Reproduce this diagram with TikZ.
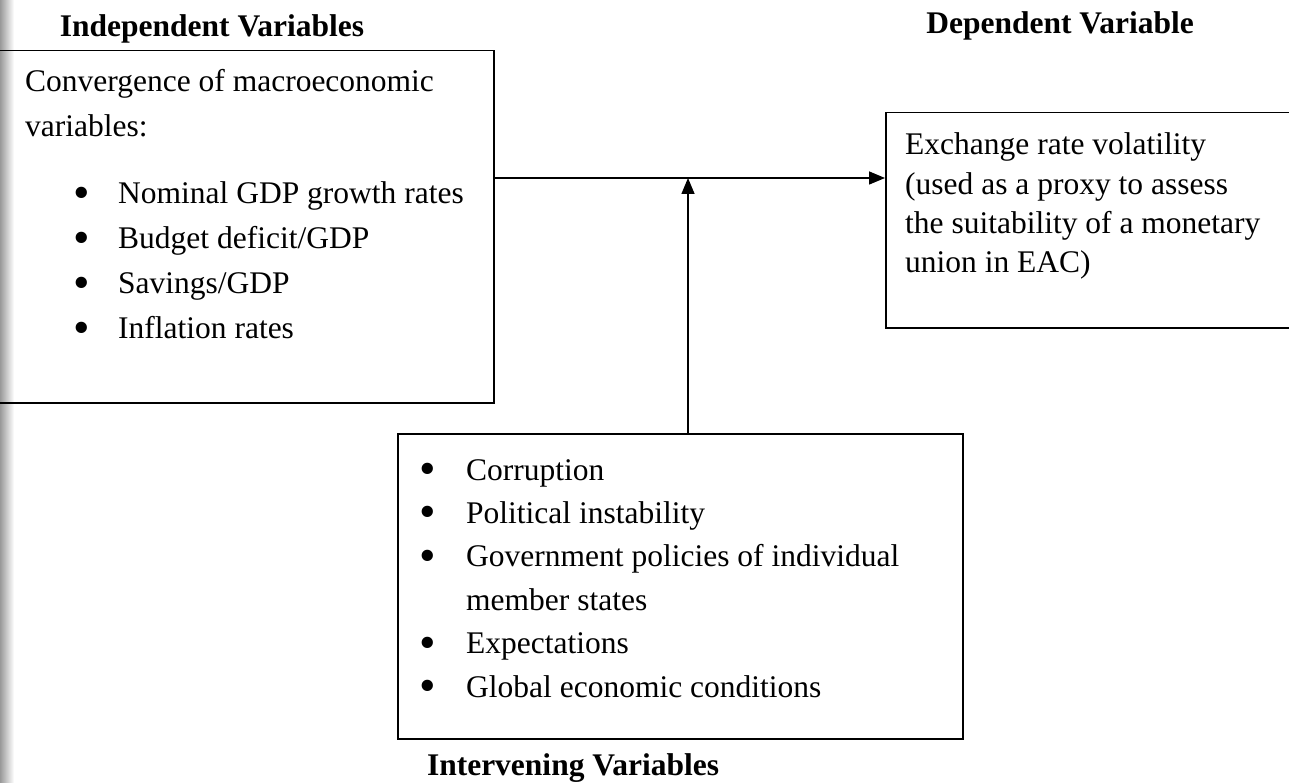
\documentclass[tikz,border=0pt]{standalone}
\usepackage{fontspec}
\usepackage{graphicx}
\setmainfont{Liberation Serif}
\usetikzlibrary{arrows.meta}

\tikzset{
  varbox/.style={draw, line width=1.5pt, rectangle, inner sep=0pt, anchor=north west},
  vartext/.style={inner sep=0pt, anchor=base west, font=\fontsize{31.5}{#1}\selectfont},
  heading/.style={inner sep=0pt, anchor=base, font=\fontsize{31.5}{38}\selectfont\bfseries},
  linkarrow/.style={line width=1.5pt, -{Triangle[length=16pt,width=13pt]}},
}
\newcommand{\bul}[1]{\makebox[#1][l]{\raisebox{-4.5pt}{\scalebox{1.5}{\textbullet}}}}

\begin{document}
\begin{tikzpicture}[x=1pt,y=-1pt]
\useasboundingbox (0,0) rectangle (1289,783);
% scan shadow on the left edge
\shade[left color=black!40, right color=white] (0,0) rectangle (14,783);

% boxes
\node[varbox, minimum width=533pt, minimum height=352pt] (indep) at (-40,50) {};
\node[varbox, minimum width=445pt, minimum height=215pt] (dep) at (885,112) {};
\node[varbox, minimum width=565pt, minimum height=305pt] (interv) at (397,433) {};

% headings
\node[heading] (indephead) at (212,37) {Independent Variables};
\node[heading] (dephead) at (1060,34) {Dependent Variable};
\node[heading] (intervhead) at (573,775) {Intervening Variables};

% box contents
\node[vartext=45] (indeptext) at (25,92) {\begin{tabular}[t]{@{}l@{}}
  Convergence of macroeconomic\\
  variables:\\[22pt]
  \hspace*{48pt}\bul{45pt}Nominal GDP growth rates\\
  \hspace*{48pt}\bul{45pt}Budget deficit/GDP\\
  \hspace*{48pt}\bul{45pt}Savings/GDP\\
  \hspace*{48pt}\bul{45pt}Inflation rates
\end{tabular}};
\node[vartext=39.3] (deptext) at (905,155) {\begin{tabular}[t]{@{}l@{}}
  Exchange rate volatility\\
  (used as a proxy to assess\\
  the suitability of a monetary\\
  union in EAC)
\end{tabular}};
\node[vartext=43.4] (intervtext) at (419,480) {\begin{tabular}[t]{@{}l@{}}
  \bul{47pt}Corruption\\
  \bul{47pt}Political instability\\
  \bul{47pt}Government policies of individual\\
  \hspace*{47pt}member states\\
  \bul{47pt}Expectations\\
  \bul{47pt}Global economic conditions
\end{tabular}};

% connectors
\coordinate (junction) at (688,178);
\draw[linkarrow] (indep.east |- junction) -- (dep.west |- junction);
\draw[linkarrow] (interv.north -| junction) -- (junction);
\end{tikzpicture}
\end{document}
